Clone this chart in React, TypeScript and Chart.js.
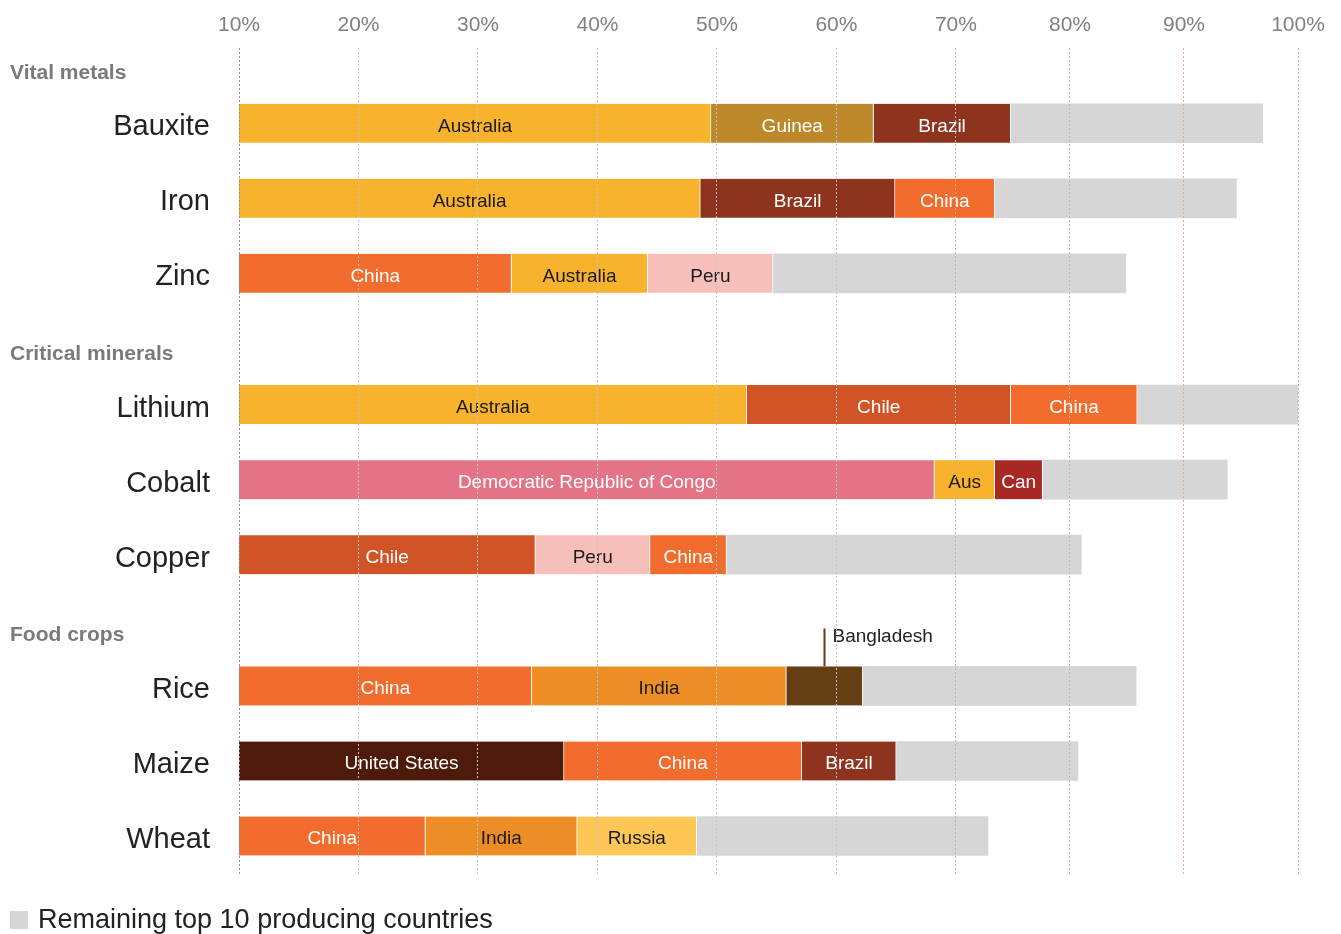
import React, { useEffect, useRef } from 'react';
import { Chart, registerables, LinearScale } from 'chart.js';

// ---------------- data ----------------
const GROUPS = ['Vital metals', 'Critical minerals', 'Food crops'];
const GROUP_SIZES = [3, 3, 3];
const COMMODITIES = ['Bauxite', 'Iron', 'Zinc', 'Lithium', 'Cobalt', 'Copper', 'Rice', 'Maize', 'Wheat'];

const FIRST_PRODUCER = ['Australia', 'Australia', 'China', 'Australia', 'Democratic Republic of Congo', 'Chile', 'China', 'United States', 'China'];
const SECOND_PRODUCER = ['Guinea', 'Brazil', 'Australia', 'Chile', 'Aus', 'Peru', 'India', 'China', 'India'];
const THIRD_PRODUCER = ['Brazil', 'China', 'Peru', 'China', 'Can', 'China', 'Bangladesh', 'Brazil', 'Russia'];

// cumulative share (%) where each segment ends, read against the axis
const FIRST_END = [49.5, 48.6, 32.8, 52.5, 68.2, 34.8, 34.5, 37.2, 25.6];
const SECOND_END = [63.1, 64.9, 44.2, 74.8, 73.4, 44.4, 55.8, 57.1, 38.3];
const THIRD_END = [74.8, 73.4, 54.7, 85.9, 77.6, 50.8, 62.2, 65.0, 48.3];
const TOP10_END = [96.9, 94.6, 84.9, 100, 93.8, 81.0, 85.8, 80.7, 72.8];

const AXIS_START = 10;
const AXIS_END = 100;
const TICK_STEP = 10;
const LEGEND_LABEL = 'Remaining top 10 producing countries';

// ---------------- styles / layout ----------------
const FONT = "'Liberation Sans', Arial, Helvetica, sans-serif";
const COUNTRY_COLORS: Record<string, string> = {
  Australia: '#f9b22c',
  Aus: '#f9b22c',
  Guinea: '#bd8829',
  Brazil: '#8e341e',
  China: '#f26c2e',
  Peru: '#f7bfba',
  Chile: '#d15427',
  'Democratic Republic of Congo': '#e47485',
  Can: '#a82824',
  India: '#ed8d25',
  Bangladesh: '#653f14',
  'United States': '#4e1a0a',
  Russia: '#fdc655',
};
const DARK_TEXT = new Set(['Australia', 'Aus', 'Peru', 'India', 'Russia']);
const REST_COLOR = '#d6d6d6';
const GROUP_GAP = 0.75; // extra space between groups, in row units
const HEADER_OFFSET = 0.67; // group header above its first row, in row units
const BREAK_VALUE = 70; // the reference axis is compressed beyond 70%
const BREAK_DECIMAL = 0.677;

const ROW_POS: number[] = [];
(() => {
  let r = 0;
  GROUP_SIZES.forEach((n, g) => {
    for (let i = 0; i < n; i++) {
      ROW_POS.push(r + g * GROUP_GAP);
      r++;
    }
  });
})();

function valueToDecimal(v: number, min: number, max: number) {
  if (v <= BREAK_VALUE) return ((v - min) / (BREAK_VALUE - min)) * BREAK_DECIMAL;
  return BREAK_DECIMAL + ((v - BREAK_VALUE) / (max - BREAK_VALUE)) * (1 - BREAK_DECIMAL);
}
function decimalToValue(d: number, min: number, max: number) {
  if (d <= BREAK_DECIMAL) return min + (d / BREAK_DECIMAL) * (BREAK_VALUE - min);
  return BREAK_VALUE + ((d - BREAK_DECIMAL) / (1 - BREAK_DECIMAL)) * (max - BREAK_VALUE);
}

class BrokenLinearScale extends (LinearScale as any) {
  static id = 'brokenLinear';
  static defaults = (LinearScale as any).defaults;
  getPixelForValue(value: any) {
    if (value === null || value === undefined || isNaN(value)) return NaN;
    return this.getPixelForDecimal(valueToDecimal(value, this.min, this.max));
  }
  getValueForPixel(pixel: number) {
    return decimalToValue(this.getDecimalForPixel(pixel), this.min, this.max);
  }
}

Chart.register(...registerables);
Chart.register(BrokenLinearScale as any);

const SEGMENTS = [
  { label: 'Largest producer', names: FIRST_PRODUCER, start: COMMODITIES.map(() => AXIS_START), end: FIRST_END },
  { label: 'Second producer', names: SECOND_PRODUCER, start: FIRST_END, end: SECOND_END },
  { label: 'Third producer', names: THIRD_PRODUCER, start: SECOND_END, end: THIRD_END },
  { label: LEGEND_LABEL, names: null as string[] | null, start: THIRD_END, end: TOP10_END },
];

const barLabelPlugin = {
  id: 'barLabels',
  afterDatasetsDraw(chart: any) {
    const ctx = chart.ctx;
    ctx.save();
    ctx.font = `19px ${FONT}`;
    ctx.textBaseline = 'middle';
    SEGMENTS.forEach((seg, k) => {
      if (!seg.names) return;
      const meta = chart.getDatasetMeta(k);
      meta.data.forEach((bar: any, i: number) => {
        const name = seg.names![i];
        const { x, base, y, height } = bar.getProps(['x', 'base', 'y', 'height'], true);
        const left = Math.min(x, base);
        const right = Math.max(x, base);
        const w = ctx.measureText(name).width;
        const cx = (left + right) / 2;
        if (w + 8 <= right - left) {
          ctx.fillStyle = DARK_TEXT.has(name) ? '#1a1a1a' : '#ffffff';
          ctx.textAlign = 'center';
          ctx.fillText(name, cx, y + 3);
        } else {
          const top = y - height / 2;
          ctx.strokeStyle = COUNTRY_COLORS[name];
          ctx.lineWidth = 2;
          ctx.beginPath();
          ctx.moveTo(cx, top);
          ctx.lineTo(cx, top - 38);
          ctx.stroke();
          ctx.fillStyle = '#222222';
          ctx.textAlign = 'left';
          ctx.fillText(name, cx + 8, top - 30);
        }
      });
    });
    ctx.restore();
  },
};

const decorPlugin = {
  id: 'decor',
  afterDraw(chart: any) {
    const ctx = chart.ctx;
    const yScale = chart.scales.y;
    ctx.save();
    ctx.textBaseline = 'middle';
    ctx.textAlign = 'left';
    ctx.font = `bold 21px ${FONT}`;
    ctx.fillStyle = '#7a7a7a';
    let first = 0;
    GROUPS.forEach((g, gi) => {
      const yy = yScale.getPixelForValue(ROW_POS[first] - HEADER_OFFSET);
      ctx.fillText(g, 10, yy);
      first += GROUP_SIZES[gi];
    });
    // legend
    ctx.fillStyle = REST_COLOR;
    ctx.fillRect(10, 911, 18, 18);
    ctx.font = `27px ${FONT}`;
    ctx.fillStyle = '#222222';
    ctx.fillText(LEGEND_LABEL, 38, 921);
    ctx.restore();
  },
};

export default function App() {
  const canvasRef = useRef<HTMLCanvasElement | null>(null);

  useEffect(() => {
    const canvas = canvasRef.current;
    if (!canvas) return;
    const chart = new Chart(canvas, {
      type: 'bar',
      data: {
        datasets: SEGMENTS.map((seg) => ({
          label: seg.label,
          data: ROW_POS.map((pos, i) => ({ x: [seg.start[i], seg.end[i]], y: pos })),
          backgroundColor: seg.names ? seg.names.map((n) => COUNTRY_COLORS[n]) : REST_COLOR,
          borderColor: '#ffffff',
          borderWidth: seg.names ? { top: 0, bottom: 0, left: 0, right: 1 } : 0,
          borderSkipped: false,
          barThickness: 39,
          stack: 'row',
        })) as any,
      },
      options: {
        indexAxis: 'y',
        responsive: false,
        devicePixelRatio: 1,
        animation: false,
        events: [],
        layout: { padding: { left: 0, right: 43, top: 0, bottom: 59 } },
        plugins: {
          legend: { display: false },
          tooltip: { enabled: false },
        },
        scales: {
          x: {
            type: 'brokenLinear' as any,
            position: 'top',
            min: AXIS_START,
            max: AXIS_END,
            stacked: false,
            beginAtZero: false,
            afterFit: (s: any) => {
              s.height = 47.5;
            },
            border: { display: false, dash: [2, 2] },
            grid: {
              z: 1,
              drawTicks: false,
              lineWidth: 1,
              color: (c: any) => {
                const v = c.tick ? c.tick.value : 0;
                if (v === AXIS_START) return '#8f8f8f';
                if (v >= BREAK_VALUE) return '#cdb39a';
                return '#c4c4c4';
              },
            },
            ticks: {
              stepSize: TICK_STEP,
              autoSkip: false,
              maxRotation: 0,
              padding: 10,
              color: '#808080',
              font: { family: FONT, size: 21 },
              callback: (v: any) => `${v}%`,
            },
          } as any,
          y: {
            type: 'linear',
            reverse: true,
            offset: false,
            stacked: true,
            min: -1.01,
            max: 10.02,
            afterFit: (s: any) => {
              s.width = 239;
            },
            afterBuildTicks: (s: any) => {
              s.ticks = ROW_POS.map((value) => ({ value }));
            },
            border: { display: false },
            grid: { display: false, drawTicks: false },
            ticks: {
              autoSkip: false,
              padding: 29,
              labelOffset: 4,
              color: '#222222',
              font: { family: FONT, size: 29 },
              callback: (_v: any, i: number) => COMMODITIES[i],
            },
          } as any,
        },
      },
      plugins: [barLabelPlugin, decorPlugin],
    });
    return () => chart.destroy();
  }, []);

  return (
    <div style={{ position: 'absolute', left: 0, top: 0, width: 1341, height: 934, background: '#ffffff' }}>
      <canvas ref={canvasRef} width={1341} height={934} style={{ display: 'block' }} />
    </div>
  );
}
